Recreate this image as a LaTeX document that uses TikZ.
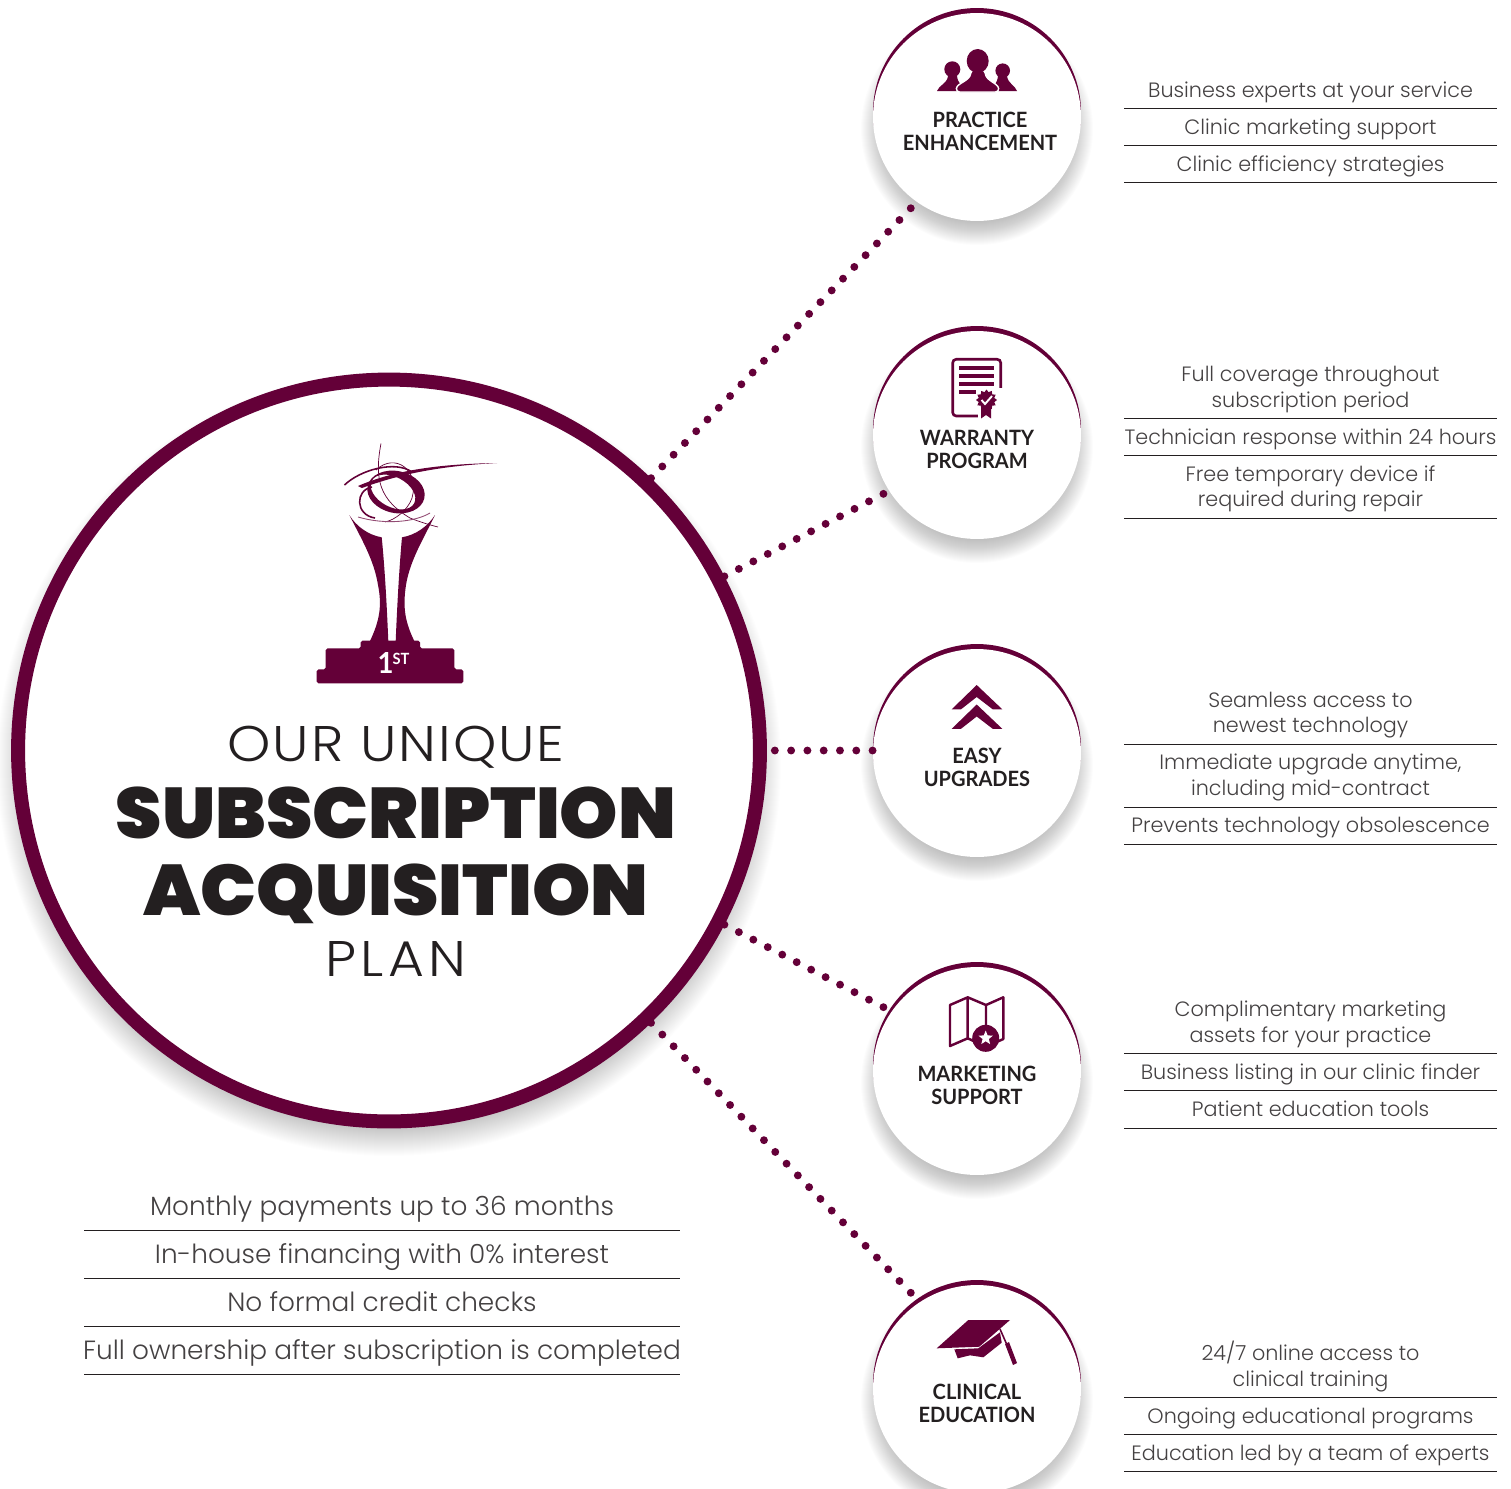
\documentclass[tikz,border=0pt]{standalone}
\usepackage{fontspec}
\setmainfont{Lato}
\newfontfamily\lightfont{Poppins Light}
\newfontfamily\heavyfont[FakeStretch=1.035]{Poppins Black}
\newfontfamily\ourfont[FakeStretch=1.1,LetterSpace=3.8]{Poppins Light}
\newfontfamily\planfont[FakeStretch=1.1,LetterSpace=9]{Poppins Light}
\newfontfamily\petfont[FakeStretch=.95]{Lato Bold}
\usetikzlibrary{shapes.geometric}
\definecolor{wine}{HTML}{640038}
\definecolor{ink}{HTML}{231F20}
\tikzset{
  hubcircle/.style={circle,draw=wine,fill=white,line width=0.28cm,minimum size=14.84cm,inner sep=0pt},
  topcircle/.style={circle,fill=wine,minimum size=4.16cm,inner sep=0pt,outer sep=0pt},
  petcircle/.style={circle,fill=white,minimum size=4.16cm,inner sep=0pt,outer sep=0pt},
  dotline/.style={wine,line width=4.5pt,line cap=round,dash pattern=on 0pt off 9.27pt},
  petlabel/.style={anchor=base,text=ink,font=\petfont\fontsize{12}{14}\selectfont},
  listtext/.style={anchor=base,text=ink!85,yshift=.5pt,font=\lightfont\fontsize{11.8}{14}\selectfont},
  bigtext/.style={anchor=base,text=ink!85,font=\lightfont\fontsize{15}{18}\selectfont},
  heavytext/.style={anchor=base,text=ink,font=\heavyfont\fontsize{40.8}{44}\selectfont},
  rule/.style={ink,line width=0.5pt},
}
\begin{document}
\begin{tikzpicture}[x=0.02cm,y=-0.02cm]

    \useasboundingbox (0,0) rectangle (1511,1488);
    \clip (0,0) rectangle (1511,1488);

    % shadows
    \foreach \d in {0,...,39}
    \fill[black,opacity=.009] (389,764) circle (392-\d);
    \foreach \y in {117,435,753,1071,1389}
    \foreach \d in {0,...,29}
    \fill[black,opacity=.013] (977,\y+12) circle (116-\d);

    \node[hubcircle] (hub) at (389,750.5) {};

    \foreach \name/\y in {practice/117,warranty/435,upgrades/753,marketing/1071,education/1389} {
      \node[topcircle] (\name top) at (977,\y-5) {};
      \node[petcircle] (\name) at (977,\y) {};
    }

    \coordinate (practiceend) at (911,208);
    \coordinate (warrantyend) at (886,492.5);
    \coordinate (upgradesend) at (874,750.5);
    \coordinate (marketingend) at (886,1008.5);
    \coordinate (educationend) at (911,1293);

    \draw[dotline] (hub) -- (practiceend);
    \draw[dotline] (hub) -- (warrantyend);
    \draw[dotline,shorten <=4.5pt] (hub) -- (upgradesend);
    \draw[dotline] (hub) -- (marketingend);
    \draw[dotline] (hub) -- (educationend);

    % trophy
    \fill[wine,rounded corners=1pt] (316.7,683.3) -- (316.7,669.3) -- (325.7,669.3) -- (325.7,648.3) -- (360.7,648.3)
      -- (360.7,640.7) -- (420,640.7) -- (420,648.3) -- (454.3,648.3) -- (454.3,669.3) -- (463.3,669.3) -- (463.3,683.3) -- cycle;
    \fill[wine] (349.3,515) .. controls (356,526) and (368,535) .. (381.7,537.3)
      .. controls (385,570) and (387,610) .. (388.3,641) -- (370,641)
      .. controls (380,620) and (382,605) .. (378,585) .. controls (374,560) and (362,540) .. cycle;
    \fill[wine] (435,515) .. controls (428,526) and (416,535) .. (402,537.3)
      .. controls (399,570) and (397,610) .. (395.7,641) -- (414.3,641)
      .. controls (404,620) and (403,605) .. (406,585) .. controls (410,560) and (424,538) .. cycle;
    \fill[wine,even odd rule] (396,492) ellipse [x radius=29,y radius=21,rotate=-12]
      (393,492) ellipse [x radius=24,y radius=15,rotate=-28];
    \fill[wine] (358,486) .. controls (395,470) and (440,464) .. (497,463) .. controls (440,466) and (400,474) .. (362,488) -- cycle;
    \draw[wine,line width=.9pt] (344.5,485) .. controls (360,470) and (395,460) .. (412,472);
    \draw[wine,line width=.4pt] (381,443.5) .. controls (374,480) and (380,500) .. (410,518) .. controls (420,522) and (430,525) .. (438,527);
    \draw[wine,line width=.4pt] (376,470) .. controls (395,452) and (420,470) .. (412,498) .. controls (408,510) and (395,520) .. (385,522);
    \draw[wine!70,line width=.5pt] (358,517) .. controls (385,525) and (415,522) .. (430,513);
    \draw[wine,line width=.9pt] (372,487) .. controls (355,490) and (355,515) .. (375,518);
    \node[anchor=base,text=white,font=\petfont\fontsize{16.5}{18}\selectfont] (first) at (385.7,673) {1};
    \node[anchor=base,text=white,font=\petfont\fontsize{8.8}{10}\selectfont] (firstst) at (401,664) {ST};

    % title
    \node[anchor=base,text=ink,font=\ourfont\fontsize{28.5}{30}\selectfont] (our) at (396,761) {OUR UNIQUE};
    \node[heavytext] (subscription) at (396,838) {SUBSCRIPTION};
    \node[heavytext] (acquisition) at (396,915) {ACQUISITION};
    \node[anchor=base,text=ink,font=\planfont\fontsize{28.5}{30}\selectfont] (plan) at (396,976) {PLAN};

    % left list
    \foreach \y/\txt in {1215/Monthly payments up to 36 months,1263/In-house financing with 0\% interest,
      1311/No formal credit checks,1359/Full ownership after subscription is completed}
    \node[bigtext] (left\y) at (382,\y) {\txt};
    \foreach \y in {1230,1278,1326,1374}
    \draw[rule] (84,\y) -- (680,\y);

    % right lists
    \foreach \y/\txt in {98/Business experts at your service,135/Clinic marketing support,172/Clinic efficiency strategies,
      382/Full coverage throughout,408/subscription period,445/Technician response within 24 hours,
      482/Free temporary device if,507/required during repair,
      708/Seamless access to,733/newest technology,770/{Immediate upgrade anytime,},796/including mid-contract,833/Prevents technology obsolescence,
      1017/Complimentary marketing,1043/assets for your practice,1080/Business listing in our clinic finder,1117/Patient education tools,
      1361/{24/7 online access to},1387/clinical training,1424/Ongoing educational programs,1461/Education led by a team of experts}
    \node[listtext] (right\y) at (1310.5,\y) {\txt};
    \foreach \y in {108,145,182,418,455,518,744,807,844,1053,1090,1128,1397,1434,1471}
    \draw[rule] (1124,\y) -- (1497,\y);

    % pet labels
    \foreach \x/\y/\txt in {980/127/PRACTICE,980/150/ENHANCEMENT,977/445/WARRANTY,977/468/PROGRAM,977/763/EASY,977/786/UPGRADES,
      977/1081/MARKETING,977/1104/SUPPORT,977/1399/CLINICAL,977/1422/EDUCATION}
    \node[petlabel] (pet\y) at (\x,\y) {\txt};

    % people icon
    \fill[wine] (937,91) .. controls (939,85) and (947,84) .. (948,76) -- (957,76) .. controls (958,84) and (962,85) .. (966,91) -- cycle;
    \fill[wine] (952.3,69.3) circle (8);
    \fill[wine] (990,91) .. controls (994,85) and (997,84) .. (998,76) -- (1007,76) .. controls (1008,84) and (1015,85) .. (1017,91) -- cycle;
    \fill[wine] (1002.7,70.7) circle (7.3);
    \fill[wine,draw=white,line width=.8pt,rounded corners=2pt] (956,92) .. controls (957,83) and (970,81) .. (971,70) -- (985,70)
      .. controls (986,81) and (998,83) .. (999,92) -- cycle;
    \fill[wine] (977.7,61) ellipse [x radius=11,y radius=12];

    % warranty icon
    \draw[wine,line width=1.5pt,rounded corners=2pt] (952.7,359.3) rectangle (1000.7,416);
    \foreach \y in {368,375.7,383.7}
    \draw[wine,line width=2.2pt] (959,\y) -- (994,\y);
    \draw[wine,line width=2.2pt] (959,391.7) -- (976,391.7);
    \fill[white] (978,388) rectangle (1003,420);
    \fill[wine] (981,404) -- (981,418.5) -- (986,415) -- (991,418.5) -- (991,404) -- cycle;
    \node[star,star points=12,star point ratio=1.3,fill=wine,minimum size=0.42cm,inner sep=0pt] (seal) at (986.5,400) {};
    \draw[white,line width=1.1pt] (981.5,400) -- (985,404) -- (992,396);

    % chevrons
    \foreach \y in {0,19.5}
    \fill[wine] (976.7,685+\y) -- (1002.3,709.3+\y) -- (992.7,709.3+\y) -- (976.7,697+\y) -- (961,709.3+\y) -- (951.7,709.3+\y) -- cycle;

    % map icon
    \draw[wine,line width=1.4pt,line join=round] (950,1005) -- (967.7,997.3) -- (986,1005) -- (1003.3,997.3) -- (1003.3,1039)
      -- (986,1046.7) -- (967.7,1038.3) -- (950,1046) -- cycle (967.7,997.3) -- (967.7,1038.3) (986,1005) -- (986,1046.7);
    \fill[wine] (985.7,1038.3) circle (13.5);
    \node[star,star points=5,star point ratio=2.3,fill=white,minimum size=0.3cm,inner sep=0pt] (mapstar) at (985.7,1038) {};

    % cap icon
    \fill[wine] (968.3,1320) -- (1010,1320) -- (979.3,1346.7) -- (936.7,1348.3) -- cycle;
    \fill[wine] (954.3,1349.3) -- (978.3,1348.3) -- (1000,1332.3) -- (1001.7,1342.7) -- (983.3,1357.3) -- (970,1355.3) -- (957.7,1358.3) -- cycle;
    \draw[wine,line width=.9pt] (1000,1329) -- (1007,1345);
    \fill[wine] (1005,1344) -- (1009,1342) -- (1017,1363) -- (1013,1365) -- cycle;

\end{tikzpicture}
\end{document}
